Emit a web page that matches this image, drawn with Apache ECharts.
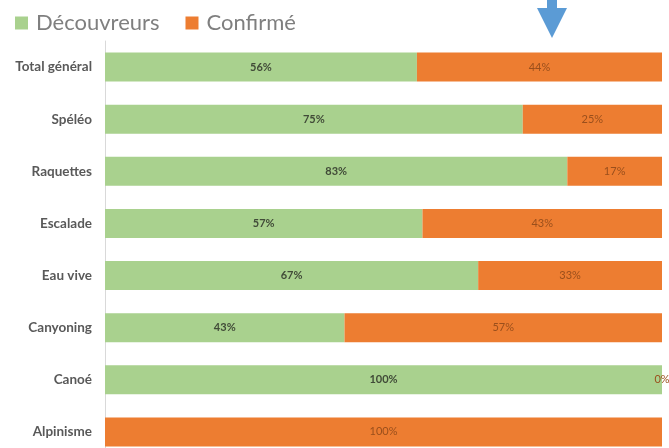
<!DOCTYPE html>
<html>
<head>
<meta charset="utf-8">
<script src="https://cdn.jsdelivr.net/npm/echarts@6/dist/echarts.min.js"></script>
<style>html,body{margin:0;padding:0;background:#fff}#c{width:669px;height:448px}</style>
</head>
<body>
<div id="c"></div>
<script>
const categories = ['Total général','Spéléo','Raquettes','Escalade','Eau vive','Canyoning','Canoé','Alpinisme'];
const decouvreurs = [56, 75, 83, 57, 67, 43, 100, 0];
const confirme = [44, 25, 17, 43, 33, 57, 0, 100];
const seriesNames = ['Découvreurs', 'Confirmé'];

const chart = echarts.init(document.getElementById('c'));
const font = 'Lato, "Open Sans", sans-serif';

function items(vals, hideZeroIdx) {
  return vals.map((v, i) => hideZeroIdx.includes(i) ? {value: v, label: {show: false}} : v);
}

chart.setOption({
  animation: false,
  legend: {
    left: 10, top: 7,
    itemWidth: 13, itemHeight: 13, itemGap: 26,
    icon: 'rect',
    textStyle: {fontFamily: font, fontSize: 22, color: '#7f7f7f', padding: [0,0,0,3]},
    data: seriesNames
  },
  graphic: [{
    type: 'polygon',
    shape: {points: [[547,0],[557,0],[557,8],[567,8],[552,38],[537,8],[547,8]]},
    style: {fill: '#5b9bd5'}
  }],
  grid: {left: 105, right: 7, top: 41, height: 417, containLabel: false, outerBoundsMode: 'none'},
  xAxis: {type: 'value', min: 0, max: 100, show: false, splitLine: {show: false}},
  yAxis: {
    type: 'category', data: categories, inverse: true,
    axisLine: {lineStyle: {color: '#d9d9d9', width: 1}},
    axisTick: {show: false},
    axisLabel: {fontFamily: font, fontSize: 13.5, fontWeight: 'bold', color: '#595959', margin: 13}
  },
  series: [
    {
      name: seriesNames[0], type: 'bar', stack: 'a', barWidth: 29,
      itemStyle: {color: '#a9d18e'},
      label: {show: true, position: 'inside', formatter: '{c}%', fontFamily: font, fontSize: 11, fontWeight: 'bold', color: '#414b38'},
      data: items(decouvreurs, [7])
    },
    {
      name: seriesNames[1], type: 'bar', stack: 'a', barWidth: 29,
      itemStyle: {color: '#ed7d31'},
      label: {show: true, position: 'inside', formatter: '{c}%', fontFamily: font, fontSize: 11, color: '#9a4f1c'},
      data: items(confirme, [])
    }
  ]
});
</script>
</body>
</html>
